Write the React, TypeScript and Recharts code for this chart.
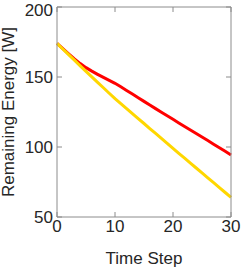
import { Label, Line, LineChart, XAxis, YAxis } from "recharts";

const timeSteps = Array.from({ length: 31 }, (_, i) => i);

const redEnergy = [
  174, 170.2, 166.5, 162.9, 159.6, 156.7, 154.2, 151.9, 149.7, 147.6, 145.5, 143.0, 140.4, 137.8,
  135.2, 132.6, 130.0, 127.4, 124.8, 122.3, 119.8, 117.2, 114.6, 112.1, 109.6, 107.1, 104.6,
  102.0, 99.5, 96.9, 94.3,
];

const yellowEnergy = [
  174, 170, 166, 162, 158, 154, 150.1, 146.2, 142.3, 138.4, 134.5, 131, 127.4, 123.9, 120.3,
  116.8, 113.2, 109.7, 106.1, 102.6, 99, 95.5, 92, 88.5, 85, 81.5, 78, 74.5, 71, 67.5, 64,
];

const xTicks = [0, 10, 20, 30];
const yTicks = [50, 100, 150, 200];

const data = timeSteps.map((t, i) => ({ t, red: redEnergy[i], yellow: yellowEnergy[i] }));

const axisColor = "#8c8c8c";
const textColor = "#262626";
const font = "'Liberation Sans', Arial, sans-serif";

export default function App() {
  return (
    <div style={{ position: "absolute", left: 0, top: 0, fontFamily: font }}>
      <LineChart
        width={241}
        height={267}
        data={data}
        margin={{ top: 6, right: 9, bottom: 0, left: 0 }}
      >
        <XAxis
          dataKey="t"
          type="number"
          domain={[0, 30]}
          ticks={xTicks}
          height={50}
          stroke={axisColor}
          tickSize={-5}
          tickMargin={8}
          tick={{ fill: textColor, fontSize: 17, fontFamily: font }}
        >
          <Label
            value="Time Step"
            position="insideBottom"
            offset={3}
            style={{ fill: textColor, fontSize: 17, fontFamily: font }}
          />
        </XAxis>
        <XAxis
          xAxisId="top"
          orientation="top"
          dataKey="t"
          type="number"
          domain={[0, 30]}
          ticks={xTicks}
          height={1}
          stroke={axisColor}
          tickSize={-5}
          tickFormatter={() => ""}
        />
        <YAxis
          type="number"
          domain={[50, 200]}
          ticks={yTicks}
          width={57}
          stroke={axisColor}
          tickSize={-5}
          tickMargin={9}
          tick={{ fill: textColor, fontSize: 17, fontFamily: font }}
        >
          <Label
            value="Remaining Energy [W]"
            angle={-90}
            position="insideLeft"
            offset={0}
            style={{ fill: textColor, fontSize: 17, fontFamily: font, textAnchor: "middle" }}
            dx={8}
          />
        </YAxis>
        <YAxis
          yAxisId="right"
          orientation="right"
          type="number"
          domain={[50, 200]}
          ticks={yTicks}
          width={1}
          stroke={axisColor}
          tickSize={-5}
          tickFormatter={() => ""}
        />
        {/* invisible series so the top and right axes get drawn */}
        <Line
          xAxisId="top"
          yAxisId="right"
          dataKey="red"
          stroke="none"
          dot={false}
          activeDot={false}
          isAnimationActive={false}
        />
        <Line
          dataKey="red"
          stroke="#ff0000"
          strokeWidth={3}
          dot={false}
          isAnimationActive={false}
        />
        <Line
          dataKey="yellow"
          stroke="#ffd700"
          strokeWidth={3}
          dot={false}
          isAnimationActive={false}
        />
      </LineChart>
    </div>
  );
}
